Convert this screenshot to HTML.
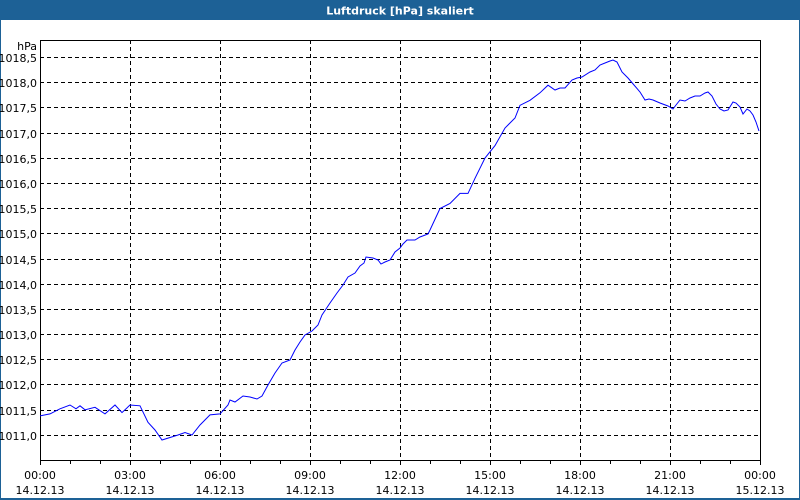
<!DOCTYPE html>
<html><head><meta charset="utf-8"><style>
html,body{margin:0;padding:0;background:#fff}
svg{display:block;font-family:"DejaVu Sans","Liberation Sans",sans-serif}
</style></head><body>
<svg width="800" height="500" xmlns="http://www.w3.org/2000/svg">
<rect x="0" y="0" width="800" height="500" fill="#fff"/>
<rect x="0" y="0" width="800" height="20" fill="#1d6196"/>
<rect x="0" y="0" width="1" height="500" fill="#1d6196"/>
<rect x="799" y="0" width="1" height="500" fill="#1d6196"/>
<rect x="0" y="498" width="800" height="2" fill="#1d6196"/>
<text x="400" y="14.5" fill="#fff" font-size="11" font-weight="bold" text-anchor="middle">Luftdruck [hPa] skaliert</text>
<g stroke="#000" stroke-width="1" stroke-dasharray="4,3" fill="none">
<path d="M40 57.5H760M40 82.5H760M40 107.5H760M40 133.5H760M40 158.5H760M40 183.5H760M40 208.5H760M40 233.5H760M40 259.5H760M40 284.5H760M40 309.5H760M40 334.5H760M40 359.5H760M40 384.5H760M40 410.5H760M40 435.5H760"/>
<path d="M130.5 40V460M220.5 40V460M310.5 40V460M400.5 40V460M490.5 40V460M580.5 40V460M670.5 40V460"/>
</g>
<rect x="40.5" y="40.5" width="720" height="420" fill="none" stroke="#000"/>
<g stroke="#000"><path d="M40.5 460V465M70.5 460V464M100.5 460V464M130.5 460V465M160.5 460V464M190.5 460V464M220.5 460V465M250.5 460V464M280.5 460V464M310.5 460V465M340.5 460V464M370.5 460V464M400.5 460V465M430.5 460V464M460.5 460V464M490.5 460V465M520.5 460V464M550.5 460V464M580.5 460V465M610.5 460V464M640.5 460V464M670.5 460V465M700.5 460V464M730.5 460V464M760.5 460V465"/></g>
<g font-size="11" fill="#000" text-anchor="end">
<text x="37" y="50">hPa</text>
<text x="37" y="62">1018,5</text><text x="37" y="87">1018,0</text><text x="37" y="112">1017,5</text><text x="37" y="138">1017,0</text><text x="37" y="163">1016,5</text><text x="37" y="188">1016,0</text><text x="37" y="213">1015,5</text><text x="37" y="238">1015,0</text><text x="37" y="264">1014,5</text><text x="37" y="289">1014,0</text><text x="37" y="314">1013,5</text><text x="37" y="339">1013,0</text><text x="37" y="364">1012,5</text><text x="37" y="389">1012,0</text><text x="37" y="415">1011,5</text><text x="37" y="440">1011,0</text>
</g>
<g font-size="11" fill="#000" text-anchor="middle">
<text x="40" y="479">00:00</text><text x="40" y="494">14.12.13</text>
<text x="130" y="479">03:00</text><text x="130" y="494">14.12.13</text>
<text x="220" y="479">06:00</text><text x="220" y="494">14.12.13</text>
<text x="310" y="479">09:00</text><text x="310" y="494">14.12.13</text>
<text x="400" y="479">12:00</text><text x="400" y="494">14.12.13</text>
<text x="490" y="479">15:00</text><text x="490" y="494">14.12.13</text>
<text x="580" y="479">18:00</text><text x="580" y="494">14.12.13</text>
<text x="670" y="479">21:00</text><text x="670" y="494">14.12.13</text>
<text x="760" y="479">00:00</text><text x="760" y="494">15.12.13</text>
</g>
<polyline fill="none" stroke="#0000ff" stroke-width="1" points="40,415.9 50,413.9 60,408.8 70,405 76,408.8 80,405.8 85,409.8 95,407.3 105,413.9 115,405 122,412.6 130,405 140,405.8 148,422.4 155,430 162,440 170,437.5 178,435 185,432.5 192,435 200,425 210,414.9 220,413.9 228,405 230,400 235,402 243,396 250,397 257,399 262,396 268,385 275,373 282,363 290,360 295,350 300,342 305,335 312,331 318,325 322,315 330,303 337,293 343,285 348,277 355,273 360,266 364,263 366,257 373,258 378,260 381,264 385,262 390,260 395,252 400,248 403,244 407,240 415,240 420,237 428,234 430,230 440,208.5 450,203.5 460,193.4 468,193.4 475,178.3 485,158 495,145.6 505,128 515,118 520,105.3 530,100.3 540,92.8 548,85.2 555,90 560,88 565,88 572,80 577,78 582,77 590,72 595,70 600,65 605,63 610,61 613,60 617,62 622,72 628,78 634,85 640,92 645,100 649,99 653,100 660,103 668,106 673,109 676,105 680,100 685,101 690,98 695,96 700,96 705,93 708,92 712,96 716,104 720,109 724,111 728,110 733,102 736,103 740,107 743,114 747,109 750,111 753,115 756,122 759,131"/>
</svg>
</body></html>
